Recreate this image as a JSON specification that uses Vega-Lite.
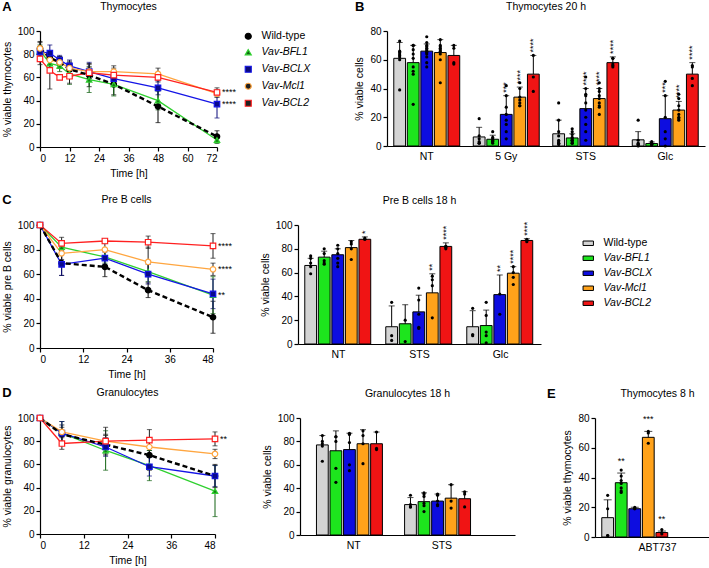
{
"$schema": "https://vega.github.io/schema/vega-lite/v6.json",
"padding": {"left": 2, "top": 0, "right": 0, "bottom": 0},
"spacing": 15,
"resolve": {"scale": {"color": "independent", "fill": "independent", "stroke": "independent", "shape": "independent"}},
"config": {
 "font": "Liberation Sans",
 "view": {"stroke": null},
 "axis": {"domainColor": "black", "domainWidth": 1.2, "tickColor": "black", "tickWidth": 1.2, "tickSize": 4, "labelColor": "black", "labelFontSize": 10, "labelPadding": 2, "labelOverlap": false, "titleColor": "black", "titleFontSize": 10.5, "titleFontWeight": "normal", "titlePadding": 5, "grid": false},
 "title": {"fontSize": 10.5, "fontWeight": "normal", "color": "black", "offset": 14},
 "legend": {"labelFontSize": 10.5, "labelColor": "black"}
},
"datasets": {
 "lA": [
  {"t":0,"g":"WT","m":85,"sd":6},{"t":4,"g":"WT","m":77,"sd":6},{"t":8,"g":"WT","m":73,"sd":5},{"t":12,"g":"WT","m":67,"sd":6},{"t":20,"g":"WT","m":62,"sd":10},{"t":30,"g":"WT","m":54,"sd":9},{"t":48,"g":"WT","m":35,"sd":14},{"t":72,"g":"WT","m":9,"sd":5},
  {"t":0,"g":"BFL1","m":83,"sd":5},{"t":4,"g":"BFL1","m":72,"sd":6},{"t":8,"g":"BFL1","m":70,"sd":5},{"t":12,"g":"BFL1","m":63,"sd":9},{"t":20,"g":"BFL1","m":58,"sd":11},{"t":30,"g":"BFL1","m":54,"sd":10},{"t":48,"g":"BFL1","m":40,"sd":8},{"t":72,"g":"BFL1","m":6,"sd":3},
  {"t":0,"g":"BCLX","m":82,"sd":4},{"t":4,"g":"BCLX","m":81,"sd":7},{"t":8,"g":"BCLX","m":75,"sd":4},{"t":12,"g":"BCLX","m":70,"sd":5},{"t":20,"g":"BCLX","m":65,"sd":8},{"t":30,"g":"BCLX","m":59,"sd":6},{"t":48,"g":"BCLX","m":51,"sd":6},{"t":72,"g":"BCLX","m":37,"sd":12},
  {"t":0,"g":"Mcl1","m":85,"sd":5},{"t":4,"g":"Mcl1","m":75,"sd":5},{"t":8,"g":"Mcl1","m":73,"sd":5},{"t":12,"g":"Mcl1","m":68,"sd":6},{"t":20,"g":"Mcl1","m":65,"sd":6},{"t":30,"g":"Mcl1","m":65,"sd":5},{"t":48,"g":"Mcl1","m":63,"sd":5},{"t":72,"g":"Mcl1","m":46,"sd":3},
  {"t":0,"g":"BCL2","m":76,"sd":5},{"t":4,"g":"BCL2","m":66,"sd":16},{"t":8,"g":"BCL2","m":60,"sd":2},{"t":12,"g":"BCL2","m":61,"sd":6},{"t":20,"g":"BCL2","m":64,"sd":5},{"t":30,"g":"BCL2","m":62,"sd":6},{"t":48,"g":"BCL2","m":60,"sd":4},{"t":72,"g":"BCL2","m":47,"sd":4}
 ],
 "lC": [
  {"t":0,"g":"WT","m":100,"sd":0},{"t":6,"g":"WT","m":69,"sd":10},{"t":18,"g":"WT","m":66,"sd":8},{"t":30,"g":"WT","m":47,"sd":6},{"t":48,"g":"WT","m":25,"sd":13},
  {"t":0,"g":"BFL1","m":100,"sd":0},{"t":6,"g":"BFL1","m":82,"sd":5},{"t":18,"g":"BFL1","m":74,"sd":5},{"t":30,"g":"BFL1","m":62,"sd":8},{"t":48,"g":"BFL1","m":43,"sd":15},
  {"t":0,"g":"BCLX","m":100,"sd":0},{"t":6,"g":"BCLX","m":68,"sd":9},{"t":18,"g":"BCLX","m":73,"sd":5},{"t":30,"g":"BCLX","m":60,"sd":8},{"t":48,"g":"BCLX","m":44,"sd":12},
  {"t":0,"g":"Mcl1","m":100,"sd":0},{"t":6,"g":"Mcl1","m":77,"sd":5},{"t":18,"g":"Mcl1","m":80,"sd":5},{"t":30,"g":"Mcl1","m":70,"sd":12},{"t":48,"g":"Mcl1","m":64,"sd":5},
  {"t":0,"g":"BCL2","m":100,"sd":0},{"t":6,"g":"BCL2","m":85,"sd":5},{"t":18,"g":"BCL2","m":87,"sd":2},{"t":30,"g":"BCL2","m":86,"sd":5},{"t":48,"g":"BCL2","m":83,"sd":10}
 ],
 "lD": [
  {"t":0,"g":"WT","m":100,"sd":0},{"t":6,"g":"WT","m":86,"sd":8},{"t":18,"g":"WT","m":77,"sd":8},{"t":30,"g":"WT","m":68,"sd":13},{"t":48,"g":"WT","m":50,"sd":10},
  {"t":0,"g":"BFL1","m":100,"sd":0},{"t":6,"g":"BFL1","m":87,"sd":10},{"t":18,"g":"BFL1","m":72,"sd":17},{"t":30,"g":"BFL1","m":59,"sd":13},{"t":48,"g":"BFL1","m":37,"sd":22},
  {"t":0,"g":"BCLX","m":100,"sd":0},{"t":6,"g":"BCLX","m":87,"sd":10},{"t":18,"g":"BCLX","m":75,"sd":8},{"t":30,"g":"BCLX","m":58,"sd":8},{"t":48,"g":"BCLX","m":50,"sd":9},
  {"t":0,"g":"Mcl1","m":100,"sd":0},{"t":6,"g":"Mcl1","m":88,"sd":4},{"t":18,"g":"Mcl1","m":80,"sd":6},{"t":30,"g":"Mcl1","m":75,"sd":6},{"t":48,"g":"Mcl1","m":69,"sd":4},
  {"t":0,"g":"BCL2","m":100,"sd":0},{"t":6,"g":"BCL2","m":78,"sd":5},{"t":18,"g":"BCL2","m":80,"sd":12},{"t":30,"g":"BCL2","m":81,"sd":9},{"t":48,"g":"BCL2","m":82,"sd":6}
 ],
 "bB": [
  {"c":"NT","g":"WT","m":61,"hi":72,"s":""},{"c":"NT","g":"BFL1","m":58,"hi":70,"s":""},{"c":"NT","g":"BCLX","m":66,"hi":71,"s":""},{"c":"NT","g":"Mcl1","m":65,"hi":74,"s":""},{"c":"NT","g":"BCL2","m":63,"hi":70,"s":""},
  {"c":"5 Gy","g":"WT","m":6.3,"hi":13,"s":""},{"c":"5 Gy","g":"BFL1","m":4.7,"hi":7.5,"s":""},{"c":"5 Gy","g":"BCLX","m":22,"hi":35,"s":"***"},{"c":"5 Gy","g":"Mcl1","m":34,"hi":41,"s":"****"},{"c":"5 Gy","g":"BCL2","m":50,"hi":63,"s":"****"},
  {"c":"STS","g":"WT","m":8.5,"hi":18,"s":""},{"c":"STS","g":"BFL1","m":5.6,"hi":8.5,"s":""},{"c":"STS","g":"BCLX","m":26,"hi":40,"s":"****"},{"c":"STS","g":"Mcl1","m":33,"hi":40,"s":"****"},{"c":"STS","g":"BCL2","m":58,"hi":62,"s":"****"},
  {"c":"Glc","g":"WT","m":4.3,"hi":10,"s":""},{"c":"Glc","g":"BFL1","m":1.7,"hi":2.8,"s":""},{"c":"Glc","g":"BCLX","m":19,"hi":35,"s":"***"},{"c":"Glc","g":"Mcl1","m":25,"hi":31,"s":"****"},{"c":"Glc","g":"BCL2","m":50,"hi":58,"s":"****"}
 ],
 "dB": [
  {"c":"NT","g":"WT","v":73},{"c":"NT","g":"WT","v":66},{"c":"NT","g":"WT","v":65},{"c":"NT","g":"WT","v":64},{"c":"NT","g":"WT","v":63},{"c":"NT","g":"WT","v":62},{"c":"NT","g":"WT","v":60},{"c":"NT","g":"WT","v":39},
  {"c":"NT","g":"BFL1","v":70},{"c":"NT","g":"BFL1","v":70},{"c":"NT","g":"BFL1","v":67},{"c":"NT","g":"BFL1","v":64},{"c":"NT","g":"BFL1","v":61},{"c":"NT","g":"BFL1","v":55},{"c":"NT","g":"BFL1","v":52},{"c":"NT","g":"BFL1","v":50},{"c":"NT","g":"BFL1","v":29},
  {"c":"NT","g":"BCLX","v":76},{"c":"NT","g":"BCLX","v":72},{"c":"NT","g":"BCLX","v":70},{"c":"NT","g":"BCLX","v":69},{"c":"NT","g":"BCLX","v":68},{"c":"NT","g":"BCLX","v":67},{"c":"NT","g":"BCLX","v":66},{"c":"NT","g":"BCLX","v":65},{"c":"NT","g":"BCLX","v":64},{"c":"NT","g":"BCLX","v":62},{"c":"NT","g":"BCLX","v":58},{"c":"NT","g":"BCLX","v":55},
  {"c":"NT","g":"Mcl1","v":74},{"c":"NT","g":"Mcl1","v":70},{"c":"NT","g":"Mcl1","v":69},{"c":"NT","g":"Mcl1","v":68},{"c":"NT","g":"Mcl1","v":67},{"c":"NT","g":"Mcl1","v":66},{"c":"NT","g":"Mcl1","v":64},{"c":"NT","g":"Mcl1","v":60},{"c":"NT","g":"Mcl1","v":44},
  {"c":"NT","g":"BCL2","v":70},{"c":"NT","g":"BCL2","v":68},{"c":"NT","g":"BCL2","v":58},{"c":"NT","g":"BCL2","v":57},
  {"c":"5 Gy","g":"WT","v":19},{"c":"5 Gy","g":"WT","v":7},{"c":"5 Gy","g":"WT","v":5},{"c":"5 Gy","g":"WT","v":3},{"c":"5 Gy","g":"WT","v":2},{"c":"5 Gy","g":"WT","v":2},
  {"c":"5 Gy","g":"BFL1","v":10},{"c":"5 Gy","g":"BFL1","v":6},{"c":"5 Gy","g":"BFL1","v":5},{"c":"5 Gy","g":"BFL1","v":4},{"c":"5 Gy","g":"BFL1","v":3},{"c":"5 Gy","g":"BFL1","v":3},{"c":"5 Gy","g":"BFL1","v":2},
  {"c":"5 Gy","g":"BCLX","v":42},{"c":"5 Gy","g":"BCLX","v":35},{"c":"5 Gy","g":"BCLX","v":27},{"c":"5 Gy","g":"BCLX","v":22},{"c":"5 Gy","g":"BCLX","v":18},{"c":"5 Gy","g":"BCLX","v":15},{"c":"5 Gy","g":"BCLX","v":10},{"c":"5 Gy","g":"BCLX","v":5},
  {"c":"5 Gy","g":"Mcl1","v":44},{"c":"5 Gy","g":"Mcl1","v":40},{"c":"5 Gy","g":"Mcl1","v":34},{"c":"5 Gy","g":"Mcl1","v":32},{"c":"5 Gy","g":"Mcl1","v":30},{"c":"5 Gy","g":"Mcl1","v":28},{"c":"5 Gy","g":"Mcl1","v":28},
  {"c":"5 Gy","g":"BCL2","v":63},{"c":"5 Gy","g":"BCL2","v":48},{"c":"5 Gy","g":"BCL2","v":38},
  {"c":"STS","g":"WT","v":30},{"c":"STS","g":"WT","v":18},{"c":"STS","g":"WT","v":10},{"c":"STS","g":"WT","v":7},{"c":"STS","g":"WT","v":4},{"c":"STS","g":"WT","v":3},{"c":"STS","g":"WT","v":2},{"c":"STS","g":"WT","v":2},{"c":"STS","g":"WT","v":1},
  {"c":"STS","g":"BFL1","v":12},{"c":"STS","g":"BFL1","v":10},{"c":"STS","g":"BFL1","v":8},{"c":"STS","g":"BFL1","v":6},{"c":"STS","g":"BFL1","v":5},{"c":"STS","g":"BFL1","v":4},{"c":"STS","g":"BFL1","v":4},{"c":"STS","g":"BFL1","v":3},{"c":"STS","g":"BFL1","v":2},{"c":"STS","g":"BFL1","v":2},
  {"c":"STS","g":"BCLX","v":48},{"c":"STS","g":"BCLX","v":40},{"c":"STS","g":"BCLX","v":36},{"c":"STS","g":"BCLX","v":35},{"c":"STS","g":"BCLX","v":30},{"c":"STS","g":"BCLX","v":25},{"c":"STS","g":"BCLX","v":20},{"c":"STS","g":"BCLX","v":15},{"c":"STS","g":"BCLX","v":10},{"c":"STS","g":"BCLX","v":4},
  {"c":"STS","g":"Mcl1","v":44},{"c":"STS","g":"Mcl1","v":40},{"c":"STS","g":"Mcl1","v":38},{"c":"STS","g":"Mcl1","v":35},{"c":"STS","g":"Mcl1","v":33},{"c":"STS","g":"Mcl1","v":30},{"c":"STS","g":"Mcl1","v":28},{"c":"STS","g":"Mcl1","v":27},{"c":"STS","g":"Mcl1","v":22},
  {"c":"STS","g":"BCL2","v":61},{"c":"STS","g":"BCL2","v":61},{"c":"STS","g":"BCL2","v":57},{"c":"STS","g":"BCL2","v":56},{"c":"STS","g":"BCL2","v":55},
  {"c":"Glc","g":"WT","v":18},{"c":"Glc","g":"WT","v":4},{"c":"Glc","g":"WT","v":2},{"c":"Glc","g":"WT","v":1},{"c":"Glc","g":"WT","v":1},{"c":"Glc","g":"WT","v":0},
  {"c":"Glc","g":"BFL1","v":3},{"c":"Glc","g":"BFL1","v":2},{"c":"Glc","g":"BFL1","v":2},{"c":"Glc","g":"BFL1","v":1},{"c":"Glc","g":"BFL1","v":1},{"c":"Glc","g":"BFL1","v":1},
  {"c":"Glc","g":"BCLX","v":45},{"c":"Glc","g":"BCLX","v":35},{"c":"Glc","g":"BCLX","v":20},{"c":"Glc","g":"BCLX","v":10},{"c":"Glc","g":"BCLX","v":5},{"c":"Glc","g":"BCLX","v":0},
  {"c":"Glc","g":"Mcl1","v":36},{"c":"Glc","g":"Mcl1","v":33},{"c":"Glc","g":"Mcl1","v":28},{"c":"Glc","g":"Mcl1","v":25},{"c":"Glc","g":"Mcl1","v":22},{"c":"Glc","g":"Mcl1","v":20},{"c":"Glc","g":"Mcl1","v":19},{"c":"Glc","g":"Mcl1","v":18},
  {"c":"Glc","g":"BCL2","v":56},{"c":"Glc","g":"BCL2","v":55},{"c":"Glc","g":"BCL2","v":47},{"c":"Glc","g":"BCL2","v":42}
 ],
 "bC": [
  {"c":"NT","g":"WT","m":66,"hi":72,"s":""},{"c":"NT","g":"BFL1","m":73,"hi":78,"s":""},{"c":"NT","g":"BCLX","m":75,"hi":80,"s":""},{"c":"NT","g":"Mcl1","m":81,"hi":87,"s":""},{"c":"NT","g":"BCL2","m":88,"hi":90,"s":"*"},
  {"c":"STS","g":"WT","m":14.5,"hi":32,"s":""},{"c":"STS","g":"BFL1","m":17,"hi":33,"s":""},{"c":"STS","g":"BCLX","m":27,"hi":41,"s":""},{"c":"STS","g":"Mcl1","m":43,"hi":59,"s":"**"},{"c":"STS","g":"BCL2","m":82,"hi":85,"s":"****"},
  {"c":"Glc","g":"WT","m":14.5,"hi":28,"s":""},{"c":"Glc","g":"BFL1","m":15.5,"hi":28.5,"s":""},{"c":"Glc","g":"BCLX","m":41.5,"hi":58,"s":"**"},{"c":"Glc","g":"Mcl1","m":59.5,"hi":65,"s":"****"},{"c":"Glc","g":"BCL2","m":87,"hi":88.5,"s":"****"}
 ],
 "dC": [
  {"c":"NT","g":"WT","v":74},{"c":"NT","g":"WT","v":72},{"c":"NT","g":"WT","v":68},{"c":"NT","g":"WT","v":65},{"c":"NT","g":"WT","v":59},
  {"c":"NT","g":"BFL1","v":80},{"c":"NT","g":"BFL1","v":76},{"c":"NT","g":"BFL1","v":70},{"c":"NT","g":"BFL1","v":68},{"c":"NT","g":"BFL1","v":67},
  {"c":"NT","g":"BCLX","v":83},{"c":"NT","g":"BCLX","v":80},{"c":"NT","g":"BCLX","v":76},{"c":"NT","g":"BCLX","v":72},{"c":"NT","g":"BCLX","v":68},{"c":"NT","g":"BCLX","v":65},
  {"c":"NT","g":"Mcl1","v":86},{"c":"NT","g":"Mcl1","v":84},{"c":"NT","g":"Mcl1","v":80},{"c":"NT","g":"Mcl1","v":71},
  {"c":"NT","g":"BCL2","v":89},{"c":"NT","g":"BCL2","v":88},{"c":"NT","g":"BCL2","v":88},
  {"c":"STS","g":"WT","v":35},{"c":"STS","g":"WT","v":7},{"c":"STS","g":"WT","v":3},
  {"c":"STS","g":"BFL1","v":20},{"c":"STS","g":"BFL1","v":2},
  {"c":"STS","g":"BCLX","v":47},{"c":"STS","g":"BCLX","v":37},{"c":"STS","g":"BCLX","v":25},{"c":"STS","g":"BCLX","v":14},{"c":"STS","g":"BCLX","v":13},
  {"c":"STS","g":"Mcl1","v":57},{"c":"STS","g":"Mcl1","v":54},{"c":"STS","g":"Mcl1","v":49},{"c":"STS","g":"Mcl1","v":22},
  {"c":"STS","g":"BCL2","v":82},{"c":"STS","g":"BCL2","v":81},{"c":"STS","g":"BCL2","v":80},{"c":"STS","g":"BCL2","v":82},
  {"c":"Glc","g":"WT","v":30},{"c":"Glc","g":"WT","v":8},{"c":"Glc","g":"WT","v":7},
  {"c":"Glc","g":"BFL1","v":35},{"c":"Glc","g":"BFL1","v":24},{"c":"Glc","g":"BFL1","v":10},{"c":"Glc","g":"BFL1","v":7},{"c":"Glc","g":"BFL1","v":1},
  {"c":"Glc","g":"BCLX","v":42},{"c":"Glc","g":"BCLX","v":25},
  {"c":"Glc","g":"Mcl1","v":65},{"c":"Glc","g":"Mcl1","v":60},{"c":"Glc","g":"Mcl1","v":56},{"c":"Glc","g":"Mcl1","v":50},
  {"c":"Glc","g":"BCL2","v":88},{"c":"Glc","g":"BCL2","v":87},{"c":"Glc","g":"BCL2","v":86}
 ],
 "bD": [
  {"c":"NT","g":"WT","m":77,"hi":85},{"c":"NT","g":"BFL1","m":72,"hi":89},{"c":"NT","g":"BCLX","m":73,"hi":87},{"c":"NT","g":"Mcl1","m":78,"hi":90},{"c":"NT","g":"BCL2","m":78,"hi":88},
  {"c":"STS","g":"WT","m":26,"hi":32},{"c":"STS","g":"BFL1","m":28.5,"hi":36},{"c":"STS","g":"BCLX","m":29,"hi":35},{"c":"STS","g":"Mcl1","m":31.5,"hi":43},{"c":"STS","g":"BCL2","m":31,"hi":37}
 ],
 "dD": [
  {"c":"NT","g":"WT","v":85},{"c":"NT","g":"WT","v":80},{"c":"NT","g":"WT","v":78},{"c":"NT","g":"WT","v":76},{"c":"NT","g":"WT","v":63},
  {"c":"NT","g":"BFL1","v":84},{"c":"NT","g":"BFL1","v":84},{"c":"NT","g":"BFL1","v":80},{"c":"NT","g":"BFL1","v":57},{"c":"NT","g":"BFL1","v":45},
  {"c":"NT","g":"BCLX","v":87},{"c":"NT","g":"BCLX","v":86},{"c":"NT","g":"BCLX","v":79},{"c":"NT","g":"BCLX","v":60},{"c":"NT","g":"BCLX","v":55},
  {"c":"NT","g":"Mcl1","v":89},{"c":"NT","g":"Mcl1","v":85},{"c":"NT","g":"Mcl1","v":78},{"c":"NT","g":"Mcl1","v":61},
  {"c":"NT","g":"BCL2","v":88},{"c":"NT","g":"BCL2","v":74},{"c":"NT","g":"BCL2","v":73},
  {"c":"STS","g":"WT","v":34},{"c":"STS","g":"WT","v":26},{"c":"STS","g":"WT","v":24},{"c":"STS","g":"WT","v":24},
  {"c":"STS","g":"BFL1","v":36},{"c":"STS","g":"BFL1","v":35},{"c":"STS","g":"BFL1","v":33},{"c":"STS","g":"BFL1","v":27},{"c":"STS","g":"BFL1","v":25},{"c":"STS","g":"BFL1","v":20},
  {"c":"STS","g":"BCLX","v":35},{"c":"STS","g":"BCLX","v":34},{"c":"STS","g":"BCLX","v":29},{"c":"STS","g":"BCLX","v":26},{"c":"STS","g":"BCLX","v":25},
  {"c":"STS","g":"Mcl1","v":43},{"c":"STS","g":"Mcl1","v":29},{"c":"STS","g":"Mcl1","v":23},
  {"c":"STS","g":"BCL2","v":37},{"c":"STS","g":"BCL2","v":35},{"c":"STS","g":"BCL2","v":24}
 ],
 "bE": [
  {"c":"ABT737","g":"WT","m":13,"hi":25,"s":""},{"c":"ABT737","g":"BFL1","m":36.5,"hi":43,"s":"**"},{"c":"ABT737","g":"BCLX","m":19,"hi":20,"s":""},{"c":"ABT737","g":"Mcl1","m":67,"hi":71,"s":"***"},{"c":"ABT737","g":"BCL2","m":3,"hi":4,"s":"**"}
 ],
 "dE": [
  {"c":"ABT737","g":"WT","v":28},{"c":"ABT737","g":"WT","v":19},{"c":"ABT737","g":"WT","v":1},{"c":"ABT737","g":"WT","v":1},
  {"c":"ABT737","g":"BFL1","v":45},{"c":"ABT737","g":"BFL1","v":41},{"c":"ABT737","g":"BFL1","v":38},{"c":"ABT737","g":"BFL1","v":36},{"c":"ABT737","g":"BFL1","v":33},{"c":"ABT737","g":"BFL1","v":31},{"c":"ABT737","g":"BFL1","v":30},
  {"c":"ABT737","g":"BCLX","v":20},{"c":"ABT737","g":"BCLX","v":19},{"c":"ABT737","g":"BCLX","v":19},
  {"c":"ABT737","g":"Mcl1","v":71},{"c":"ABT737","g":"Mcl1","v":70},{"c":"ABT737","g":"Mcl1","v":63},
  {"c":"ABT737","g":"BCL2","v":5},{"c":"ABT737","g":"BCL2","v":3},{"c":"ABT737","g":"BCL2","v":2}
 ]
},
"vconcat": [
 {"hconcat": [
  {"title": {"text": "A", "anchor": "start", "frame": "bounds", "fontSize": 13, "fontWeight": "bold", "offset": -12},
   "resolve": {"scale": {"color": "independent", "fill": "independent", "stroke": "independent", "shape": "independent"}},
   "vconcat": [{
    "width": 177, "height": 116, "title": "Thymocytes",
    "layer": [
     {"data": {"name": "lA"}, "transform": [{"filter": "datum.g !== 'WT'"}], "mark": {"type": "line", "strokeWidth": 1.3},
      "encoding": {
       "x": {"field": "t", "type": "quantitative", "title": "Time [h]", "scale": {"domain": [0, 72], "nice": false}, "axis": {"values": [0, 12, 24, 36, 48, 60, 72], "tickCount": 20}},
       "y": {"field": "m", "type": "quantitative", "title": "% viable thymocytes", "scale": {"domain": [0, 100], "nice": false}, "axis": {"values": [0, 20, 40, 60, 80, 100], "tickCount": 20}},
       "stroke": {"field": "g", "type": "nominal", "scale": {"domain": ["WT", "BFL1", "BCLX", "Mcl1", "BCL2"], "range": ["#000000", "#2fd02f", "#1414e6", "#ffa640", "#ff2020"]},
        "legend": {"title": null, "orient": "right", "offset": 23, "symbolSize": 36, "symbolStrokeWidth": 1.2, "rowPadding": 5, "labelFontSize": 10.5, "labelOffset": 8, "labelExpr": "datum.value === 'WT' ? 'Wild-type' : 'Vav-' + datum.value", "encode": {"labels": {"update": {"fontStyle": {"signal": "datum.value === 'WT' ? 'normal' : 'italic'"}}}}}}
      }},
     {"data": {"name": "lA"}, "transform": [{"filter": "datum.g === 'WT'"}], "mark": {"type": "line", "strokeWidth": 2.4, "strokeDash": [5, 3], "color": "black"},
      "encoding": {"x": {"field": "t", "type": "quantitative", "title": "Time [h]"}, "y": {"field": "m", "type": "quantitative", "title": "% viable thymocytes"}}},
     {"data": {"name": "lA"}, "mark": {"type": "errorbar", "ticks": true, "thickness": 1},
      "encoding": {"x": {"field": "t", "type": "quantitative", "title": "Time [h]"}, "y": {"field": "m", "type": "quantitative", "title": "% viable thymocytes"}, "yError": {"field": "sd"},
       "color": {"field": "g", "type": "nominal", "scale": {"domain": ["WT", "BFL1", "BCLX", "Mcl1", "BCL2"], "range": ["#000000", "#126312", "#0a0a7a", "#202020", "#202020"]}, "legend": null}}},
     {"data": {"name": "lA"}, "mark": {"type": "point", "filled": false, "opacity": 1, "size": 30, "strokeWidth": 1.2},
      "encoding": {"x": {"field": "t", "type": "quantitative", "title": "Time [h]"}, "y": {"field": "m", "type": "quantitative", "title": "% viable thymocytes"},
       "shape": {"field": "g", "type": "nominal", "scale": {"domain": ["WT", "BFL1", "BCLX", "Mcl1", "BCL2"], "range": ["circle", "triangle-up", "square", "circle", "square"]},
        "legend": {"title": null, "orient": "right", "offset": 23, "symbolSize": 36, "symbolStrokeWidth": 1.2, "rowPadding": 5, "labelFontSize": 10.5, "labelOffset": 8, "labelExpr": "datum.value === 'WT' ? 'Wild-type' : 'Vav-' + datum.value", "encode": {"labels": {"update": {"fontStyle": {"signal": "datum.value === 'WT' ? 'normal' : 'italic'"}}}}}},
       "fill": {"field": "g", "type": "nominal", "scale": {"domain": ["WT", "BFL1", "BCLX", "Mcl1", "BCL2"], "range": ["#000000", "#137a13", "#0a0a8c", "#ffffff", "#ffffff"]},
        "legend": {"title": null, "orient": "right", "offset": 23, "symbolSize": 36, "symbolStrokeWidth": 1.2, "rowPadding": 5, "labelFontSize": 10.5, "labelOffset": 8, "labelExpr": "datum.value === 'WT' ? 'Wild-type' : 'Vav-' + datum.value", "encode": {"labels": {"update": {"fontStyle": {"signal": "datum.value === 'WT' ? 'normal' : 'italic'"}}}}}},
       "stroke": {"field": "g", "type": "nominal"}}},
     {"data": {"values": [{"t": 72, "y": 47, "s": "****"}, {"t": 72, "y": 37, "s": "****"}]}, "mark": {"type": "text", "align": "left", "baseline": "middle", "dx": 5, "fontSize": 9},
      "encoding": {"x": {"field": "t", "type": "quantitative", "title": "Time [h]"}, "y": {"field": "y", "type": "quantitative", "title": "% viable thymocytes"}, "text": {"field": "s"}}}
    ]
   }]
  },
  {"title": {"text": "B", "anchor": "start", "frame": "bounds", "fontSize": 13, "fontWeight": "bold", "offset": -12},
   "resolve": {"scale": {"color": "independent", "fill": "independent", "stroke": "independent", "shape": "independent"}},
   "vconcat": [{
    "width": 318, "height": 115, "title": "Thymocytes 20 h",
    "layer": [
     {"data": {"name": "bB"}, "mark": {"type": "bar", "stroke": "black", "strokeWidth": 1},
      "encoding": {
       "x": {"field": "c", "type": "nominal", "sort": ["NT", "5 Gy", "STS", "Glc"], "scale": {"paddingInner": 0, "paddingOuter": 0}, "axis": {"title": null, "ticks": false, "labelAngle": 0, "labelFontSize": 10.5, "labelPadding": 5}},
       "xOffset": {"field": "g", "type": "nominal", "scale": {"domain": ["WT", "BFL1", "BCLX", "Mcl1", "BCL2"], "paddingInner": 0.13, "paddingOuter": 0.5}},
       "y": {"field": "m", "type": "quantitative", "title": "% viable cells", "scale": {"domain": [0, 80], "nice": false}, "axis": {"values": [0, 20, 40, 60, 80], "tickCount": 20}},
       "color": {"field": "g", "type": "nominal", "scale": {"domain": ["WT", "BFL1", "BCLX", "Mcl1", "BCL2"], "range": ["#d4d4d4", "#1de51d", "#0d0de0", "#ffa21a", "#f01414"]}, "legend": null}}},
     {"data": {"name": "bB"}, "mark": {"type": "rule", "color": "black", "strokeWidth": 1},
      "encoding": {"x": {"field": "c", "type": "nominal", "sort": ["NT", "5 Gy", "STS", "Glc"]}, "xOffset": {"field": "g", "type": "nominal"}, "y": {"field": "m", "type": "quantitative", "title": "% viable cells"}, "y2": {"field": "hi"}}},
     {"data": {"name": "bB"}, "mark": {"type": "tick", "color": "black", "thickness": 1, "size": 6, "orient": "horizontal"},
      "encoding": {"x": {"field": "c", "type": "nominal", "sort": ["NT", "5 Gy", "STS", "Glc"]}, "xOffset": {"field": "g", "type": "nominal"}, "y": {"field": "hi", "type": "quantitative", "title": "% viable cells"}}},
     {"data": {"name": "dB"}, "mark": {"type": "circle", "color": "black", "size": 10, "opacity": 1},
      "encoding": {"x": {"field": "c", "type": "nominal", "sort": ["NT", "5 Gy", "STS", "Glc"]}, "xOffset": {"field": "g", "type": "nominal"}, "y": {"field": "v", "type": "quantitative", "title": "% viable cells"}}},
     {"data": {"name": "bB"}, "mark": {"type": "text", "angle": 270, "align": "left", "baseline": "middle", "dx": 3, "fontSize": 9},
      "encoding": {"x": {"field": "c", "type": "nominal", "sort": ["NT", "5 Gy", "STS", "Glc"]}, "xOffset": {"field": "g", "type": "nominal"}, "y": {"field": "hi", "type": "quantitative", "title": "% viable cells"}, "text": {"field": "s"}}}
    ]
   }]
  }
 ], "spacing": 43, "resolve": {"scale": {"color": "independent", "fill": "independent", "stroke": "independent", "shape": "independent"}}},
 {"vconcat": [
 {"hconcat": [
  {"title": {"text": "C", "anchor": "start", "frame": "bounds", "fontSize": 13, "fontWeight": "bold", "offset": -12},
   "resolve": {"scale": {"color": "independent", "fill": "independent", "stroke": "independent", "shape": "independent"}},
   "vconcat": [{
    "width": 173, "height": 123, "title": "Pre B cells",
    "layer": [
     {"data": {"name": "lC"}, "transform": [{"filter": "datum.g !== 'WT'"}], "mark": {"type": "line", "strokeWidth": 1.3},
      "encoding": {
       "x": {"field": "t", "type": "quantitative", "title": "Time [h]", "scale": {"domain": [0, 48], "nice": false}, "axis": {"values": [0, 12, 24, 36, 48], "tickCount": 20}},
       "y": {"field": "m", "type": "quantitative", "title": "% viable pre B cells", "scale": {"domain": [0, 100], "nice": false}, "axis": {"values": [0, 20, 40, 60, 80, 100], "tickCount": 20}},
       "stroke": {"field": "g", "type": "nominal", "scale": {"domain": ["WT", "BFL1", "BCLX", "Mcl1", "BCL2"], "range": ["#000000", "#2fd02f", "#1414e6", "#ffa640", "#ff2020"]}, "legend": null}}},
     {"data": {"name": "lC"}, "transform": [{"filter": "datum.g === 'WT'"}], "mark": {"type": "line", "strokeWidth": 2.4, "strokeDash": [5, 3], "color": "black"},
      "encoding": {"x": {"field": "t", "type": "quantitative", "title": "Time [h]"}, "y": {"field": "m", "type": "quantitative", "title": "% viable pre B cells"}}},
     {"data": {"name": "lC"}, "mark": {"type": "errorbar", "ticks": true, "thickness": 1},
      "encoding": {"x": {"field": "t", "type": "quantitative", "title": "Time [h]"}, "y": {"field": "m", "type": "quantitative", "title": "% viable pre B cells"}, "yError": {"field": "sd"},
       "color": {"field": "g", "type": "nominal", "scale": {"domain": ["WT", "BFL1", "BCLX", "Mcl1", "BCL2"], "range": ["#000000", "#126312", "#0a0a7a", "#202020", "#202020"]}, "legend": null}}},
     {"data": {"name": "lC"}, "mark": {"type": "point", "filled": false, "opacity": 1, "size": 30, "strokeWidth": 1.2},
      "encoding": {"x": {"field": "t", "type": "quantitative", "title": "Time [h]"}, "y": {"field": "m", "type": "quantitative", "title": "% viable pre B cells"},
       "shape": {"field": "g", "type": "nominal", "scale": {"domain": ["WT", "BFL1", "BCLX", "Mcl1", "BCL2"], "range": ["circle", "triangle-up", "square", "circle", "square"]}, "legend": null},
       "fill": {"field": "g", "type": "nominal", "scale": {"domain": ["WT", "BFL1", "BCLX", "Mcl1", "BCL2"], "range": ["#000000", "#137a13", "#0a0a8c", "#ffffff", "#ffffff"]}, "legend": null},
       "stroke": {"field": "g", "type": "nominal"}}},
     {"data": {"values": [{"t": 48, "y": 83, "s": "****"}, {"t": 48, "y": 64, "s": "****"}, {"t": 48, "y": 43, "s": "**"}]}, "mark": {"type": "text", "align": "left", "baseline": "middle", "dx": 5, "fontSize": 9},
      "encoding": {"x": {"field": "t", "type": "quantitative", "title": "Time [h]"}, "y": {"field": "y", "type": "quantitative", "title": "% viable pre B cells"}, "text": {"field": "s"}}}
    ]
   }]
  },
  {
   "width": 243, "height": 119, "title": "Pre B cells 18 h",
   "layer": [
    {"data": {"name": "bC"}, "mark": {"type": "bar", "stroke": "black", "strokeWidth": 1},
     "encoding": {
      "x": {"field": "c", "type": "nominal", "sort": ["NT", "STS", "Glc"], "scale": {"paddingInner": 0, "paddingOuter": 0}, "axis": {"title": null, "ticks": false, "labelAngle": 0, "labelFontSize": 10.5, "labelPadding": 5}},
      "xOffset": {"field": "g", "type": "nominal", "scale": {"domain": ["WT", "BFL1", "BCLX", "Mcl1", "BCL2"], "paddingInner": 0.17, "paddingOuter": 0.6}},
      "y": {"field": "m", "type": "quantitative", "title": "% viable cells", "scale": {"domain": [0, 100], "nice": false}, "axis": {"values": [0, 20, 40, 60, 80, 100], "tickCount": 20}},
      "color": {"field": "g", "type": "nominal", "scale": {"domain": ["WT", "BFL1", "BCLX", "Mcl1", "BCL2"], "range": ["#d4d4d4", "#1de51d", "#0d0de0", "#ffa21a", "#f01414"]},
       "legend": {"title": null, "orient": "none", "legendX": 285, "legendY": 13, "symbolType": "M-1.4,-0.6H1.4V0.6H-1.4Z", "symbolSize": 55, "symbolStrokeColor": "black", "symbolStrokeWidth": 1, "rowPadding": 4, "labelFontSize": 10.5, "labelOffset": 10, "labelExpr": "datum.value === 'WT' ? 'Wild-type' : 'Vav-' + datum.value", "encode": {"labels": {"update": {"fontStyle": {"signal": "datum.value === 'WT' ? 'normal' : 'italic'"}}}}}}}},
    {"data": {"name": "bC"}, "mark": {"type": "rule", "color": "black", "strokeWidth": 1},
     "encoding": {"x": {"field": "c", "type": "nominal", "sort": ["NT", "STS", "Glc"]}, "xOffset": {"field": "g", "type": "nominal"}, "y": {"field": "m", "type": "quantitative", "title": "% viable cells"}, "y2": {"field": "hi"}}},
    {"data": {"name": "bC"}, "mark": {"type": "tick", "color": "black", "thickness": 1, "size": 6, "orient": "horizontal"},
     "encoding": {"x": {"field": "c", "type": "nominal", "sort": ["NT", "STS", "Glc"]}, "xOffset": {"field": "g", "type": "nominal"}, "y": {"field": "hi", "type": "quantitative", "title": "% viable cells"}}},
    {"data": {"name": "dC"}, "mark": {"type": "circle", "color": "black", "size": 10, "opacity": 1},
     "encoding": {"x": {"field": "c", "type": "nominal", "sort": ["NT", "STS", "Glc"]}, "xOffset": {"field": "g", "type": "nominal"}, "y": {"field": "v", "type": "quantitative", "title": "% viable cells"}}},
    {"data": {"name": "bC"}, "mark": {"type": "text", "angle": 270, "align": "left", "baseline": "middle", "dx": 3, "fontSize": 9},
     "encoding": {"x": {"field": "c", "type": "nominal", "sort": ["NT", "STS", "Glc"]}, "xOffset": {"field": "g", "type": "nominal"}, "y": {"field": "hi", "type": "quantitative", "title": "% viable cells"}, "text": {"field": "s"}}}
   ]
  }
 ], "spacing": 27, "resolve": {"scale": {"color": "independent", "fill": "independent", "stroke": "independent", "shape": "independent"}}},
 {"hconcat": [
  {"title": {"text": "D", "anchor": "start", "frame": "bounds", "fontSize": 13, "fontWeight": "bold", "offset": -12},
   "resolve": {"scale": {"color": "independent", "fill": "independent", "stroke": "independent", "shape": "independent"}},
   "vconcat": [{
    "width": 175, "height": 116, "title": "Granulocytes",
    "layer": [
     {"data": {"name": "lD"}, "transform": [{"filter": "datum.g !== 'WT'"}], "mark": {"type": "line", "strokeWidth": 1.3},
      "encoding": {
       "x": {"field": "t", "type": "quantitative", "title": "Time [h]", "scale": {"domain": [0, 48], "nice": false}, "axis": {"values": [0, 12, 24, 36, 48], "tickCount": 20}},
       "y": {"field": "m", "type": "quantitative", "title": "% viable granulocytes", "scale": {"domain": [0, 100], "nice": false}, "axis": {"values": [0, 20, 40, 60, 80, 100], "tickCount": 20}},
       "stroke": {"field": "g", "type": "nominal", "scale": {"domain": ["WT", "BFL1", "BCLX", "Mcl1", "BCL2"], "range": ["#000000", "#2fd02f", "#1414e6", "#ffa640", "#ff2020"]}, "legend": null}}},
     {"data": {"name": "lD"}, "transform": [{"filter": "datum.g === 'WT'"}], "mark": {"type": "line", "strokeWidth": 2.4, "strokeDash": [5, 3], "color": "black"},
      "encoding": {"x": {"field": "t", "type": "quantitative", "title": "Time [h]"}, "y": {"field": "m", "type": "quantitative", "title": "% viable granulocytes"}}},
     {"data": {"name": "lD"}, "mark": {"type": "errorbar", "ticks": true, "thickness": 1},
      "encoding": {"x": {"field": "t", "type": "quantitative", "title": "Time [h]"}, "y": {"field": "m", "type": "quantitative", "title": "% viable granulocytes"}, "yError": {"field": "sd"},
       "color": {"field": "g", "type": "nominal", "scale": {"domain": ["WT", "BFL1", "BCLX", "Mcl1", "BCL2"], "range": ["#000000", "#126312", "#0a0a7a", "#202020", "#202020"]}, "legend": null}}},
     {"data": {"name": "lD"}, "mark": {"type": "point", "filled": false, "opacity": 1, "size": 30, "strokeWidth": 1.2},
      "encoding": {"x": {"field": "t", "type": "quantitative", "title": "Time [h]"}, "y": {"field": "m", "type": "quantitative", "title": "% viable granulocytes"},
       "shape": {"field": "g", "type": "nominal", "scale": {"domain": ["WT", "BFL1", "BCLX", "Mcl1", "BCL2"], "range": ["circle", "triangle-up", "square", "circle", "square"]}, "legend": null},
       "fill": {"field": "g", "type": "nominal", "scale": {"domain": ["WT", "BFL1", "BCLX", "Mcl1", "BCL2"], "range": ["#000000", "#137a13", "#0a0a8c", "#ffffff", "#ffffff"]}, "legend": null},
       "stroke": {"field": "g", "type": "nominal"}}},
     {"data": {"values": [{"t": 48, "y": 82, "s": "**"}]}, "mark": {"type": "text", "align": "left", "baseline": "middle", "dx": 5, "fontSize": 9},
      "encoding": {"x": {"field": "t", "type": "quantitative", "title": "Time [h]"}, "y": {"field": "y", "type": "quantitative", "title": "% viable granulocytes"}, "text": {"field": "s"}}}
    ]
   }]
  },
  {"hconcat": [
   {
    "width": 215, "height": 117, "title": "Granulocytes 18 h",
    "layer": [
     {"data": {"name": "bD"}, "mark": {"type": "bar", "stroke": "black", "strokeWidth": 1},
      "encoding": {
       "x": {"field": "c", "type": "nominal", "sort": ["NT", "STS"], "scale": {"paddingInner": 0, "paddingOuter": 0.22, "align": 0.25}, "axis": {"title": null, "ticks": false, "labelAngle": 0, "labelFontSize": 10.5, "labelPadding": 5}},
       "xOffset": {"field": "g", "type": "nominal", "scale": {"domain": ["WT", "BFL1", "BCLX", "Mcl1", "BCL2"], "paddingInner": 0.21, "paddingOuter": 0.55}},
       "y": {"field": "m", "type": "quantitative", "title": "% viable cells", "scale": {"domain": [0, 100], "nice": false}, "axis": {"values": [0, 20, 40, 60, 80, 100], "tickCount": 20}},
       "color": {"field": "g", "type": "nominal", "scale": {"domain": ["WT", "BFL1", "BCLX", "Mcl1", "BCL2"], "range": ["#d4d4d4", "#1de51d", "#0d0de0", "#ffa21a", "#f01414"]}, "legend": null}}},
     {"data": {"name": "bD"}, "mark": {"type": "rule", "color": "black", "strokeWidth": 1},
      "encoding": {"x": {"field": "c", "type": "nominal", "sort": ["NT", "STS"]}, "xOffset": {"field": "g", "type": "nominal"}, "y": {"field": "m", "type": "quantitative", "title": "% viable cells"}, "y2": {"field": "hi"}}},
     {"data": {"name": "bD"}, "mark": {"type": "tick", "color": "black", "thickness": 1, "size": 6, "orient": "horizontal"},
      "encoding": {"x": {"field": "c", "type": "nominal", "sort": ["NT", "STS"]}, "xOffset": {"field": "g", "type": "nominal"}, "y": {"field": "hi", "type": "quantitative", "title": "% viable cells"}}},
     {"data": {"name": "dD"}, "mark": {"type": "circle", "color": "black", "size": 10, "opacity": 1},
      "encoding": {"x": {"field": "c", "type": "nominal", "sort": ["NT", "STS"]}, "xOffset": {"field": "g", "type": "nominal"}, "y": {"field": "v", "type": "quantitative", "title": "% viable cells"}}}
    ]
   },
   {"title": {"text": "E", "anchor": "start", "frame": "bounds", "fontSize": 13, "fontWeight": "bold", "offset": -12, "dx": -16},
    "resolve": {"scale": {"color": "independent", "fill": "independent", "stroke": "independent", "shape": "independent"}},
    "vconcat": [{
     "width": 125, "height": 119, "title": "Thymocytes 8 h",
     "layer": [
      {"data": {"name": "bE"}, "mark": {"type": "bar", "stroke": "black", "strokeWidth": 1},
       "encoding": {
        "x": {"field": "c", "type": "nominal", "scale": {"paddingInner": 0, "paddingOuter": 0}, "axis": {"title": null, "ticks": false, "labelAngle": 0, "labelFontSize": 10.5, "labelPadding": 5}},
        "xOffset": {"field": "g", "type": "nominal", "scale": {"domain": ["WT", "BFL1", "BCLX", "Mcl1", "BCL2"], "paddingInner": 0.36, "paddingOuter": 0.38}},
        "y": {"field": "m", "type": "quantitative", "title": "% viable thymocytes", "scale": {"domain": [0, 80], "nice": false}, "axis": {"values": [0, 20, 40, 60, 80], "tickCount": 20}},
        "color": {"field": "g", "type": "nominal", "scale": {"domain": ["WT", "BFL1", "BCLX", "Mcl1", "BCL2"], "range": ["#d4d4d4", "#1de51d", "#0d0de0", "#ffa21a", "#f01414"]}, "legend": null}}},
      {"data": {"name": "bE"}, "mark": {"type": "rule", "color": "black", "strokeWidth": 1},
       "encoding": {"x": {"field": "c", "type": "nominal"}, "xOffset": {"field": "g", "type": "nominal"}, "y": {"field": "m", "type": "quantitative", "title": "% viable thymocytes"}, "y2": {"field": "hi"}}},
      {"data": {"name": "bE"}, "mark": {"type": "tick", "color": "black", "thickness": 1, "size": 8, "orient": "horizontal"},
       "encoding": {"x": {"field": "c", "type": "nominal"}, "xOffset": {"field": "g", "type": "nominal"}, "y": {"field": "hi", "type": "quantitative", "title": "% viable thymocytes"}}},
      {"data": {"name": "dE"}, "mark": {"type": "circle", "color": "black", "size": 10, "opacity": 1},
       "encoding": {"x": {"field": "c", "type": "nominal"}, "xOffset": {"field": "g", "type": "nominal"}, "y": {"field": "v", "type": "quantitative", "title": "% viable thymocytes"}}},
      {"data": {"name": "bE"}, "mark": {"type": "text", "align": "center", "baseline": "bottom", "dy": -7, "fontSize": 9},
       "encoding": {"x": {"field": "c", "type": "nominal"}, "xOffset": {"field": "g", "type": "nominal"}, "y": {"field": "hi", "type": "quantitative", "title": "% viable thymocytes"}, "text": {"field": "s"}}}
     ]
    }]
   }
  ], "spacing": 31, "resolve": {"scale": {"color": "independent", "fill": "independent", "stroke": "independent", "shape": "independent"}}}
 ], "spacing": 34, "resolve": {"scale": {"color": "independent", "fill": "independent", "stroke": "independent", "shape": "independent"}}}
 ], "spacing": 7, "resolve": {"scale": {"color": "independent", "fill": "independent", "stroke": "independent", "shape": "independent"}}}
]
}
